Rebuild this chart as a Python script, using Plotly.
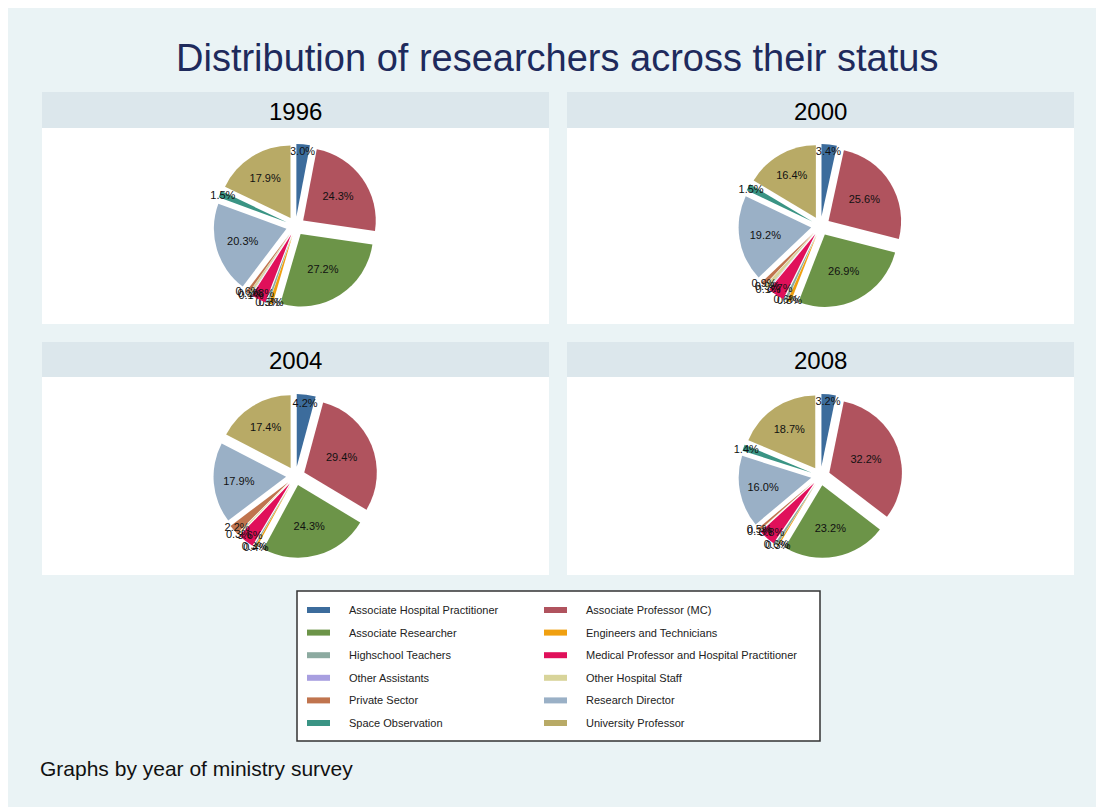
import plotly.graph_objects as go

# the page puts the figure 8px in from the top-left corner
OFF = 8
W, H = 1104 - OFF, 807 - OFF

statuses = [
    "Associate Hospital Practitioner", "Associate Professor (MC)",
    "Associate Researcher", "Engineers and Technicians",
    "Highschool Teachers", "Medical Professor and Hospital Practitioner",
    "Other Assistants", "Other Hospital Staff",
    "Private Sector", "Research Director",
    "Space Observation", "University Professor",
]
colors = ["#3C6C9C", "#B0535E", "#6C9448", "#F0A010", "#8CAAA0", "#E0105A",
          "#A89FE0", "#D8D49A", "#C0744E", "#9AB0C6", "#3A9484", "#B8AA66"]

years = ["1996", "2000", "2004", "2008"]
share_1996 = [3.0, 24.3, 27.2, 0.8, 0.5, 3.3, 0.1, 0.5, 0.6, 20.3, 1.5, 17.9]
share_2000 = [3.4, 25.6, 26.9, 0.8, 0.6, 3.7, 0.1, 0.9, 0.9, 19.2, 1.5, 16.4]
share_2004 = [4.2, 29.4, 24.3, 0.4, 0.3, 3.6, 0.0, 0.3, 2.2, 17.9, 0.0, 17.4]
share_2008 = [3.2, 32.2, 23.2, 0.3, 0.6, 3.8, 0.0, 0.1, 0.5, 16.0, 1.4, 18.7]
shares = [share_1996, share_2000, share_2004, share_2008]


def px(x):
    return (x - OFF) / W


def py(y):
    return 1 - (y - OFF) / H


def label(text, x, y, size, color="#111111", xanchor="center"):
    return dict(text=text, x=px(x), y=py(y), xref="paper", yref="paper",
                xanchor=xanchor, yanchor="middle", showarrow=False,
                font=dict(size=size, color=color, family="Liberation Sans"))


# panel boxes (left, right, header top, plot top, plot bottom) in pixels
panels = [
    (42, 549, 92, 128, 324),
    (567, 1074, 92, 128, 324),
    (42, 549, 342, 377, 575),
    (567, 1074, 342, 377, 575),
]

fig = go.Figure()
shapes = []
annotations = []

for year, vals, (x0, x1, yh, yp, yb) in zip(years, shares, panels):
    shapes.append(dict(type="rect", xref="paper", yref="paper", x0=px(x0), x1=px(x1),
                       y0=py(yp), y1=py(yh), fillcolor="#DCE7EC", line_width=0, layer="below"))
    shapes.append(dict(type="rect", xref="paper", yref="paper", x0=px(x0), x1=px(x1),
                       y0=py(yb), y1=py(yp), fillcolor="white", line_width=0, layer="below"))
    annotations.append(label(year, (x0 + x1) / 2, (yh + yp) / 2 + 1, 24, "black"))
    cx, cy = (x0 + x1) / 2, (yp + yb) / 2
    half = 82
    fig.add_trace(go.Pie(
        labels=statuses, values=vals, sort=False, direction="clockwise",
        marker=dict(colors=colors, line=dict(width=0)),
        pull=[0.13] * len(vals),
        text=[f"{v:.1f}%" if v > 0 else "" for v in vals],
        textinfo="text", textposition="inside",
        insidetextorientation="horizontal",
        textfont=dict(size=11, color="#111111", family="Liberation Sans"),
        domain=dict(x=[px(cx - half), px(cx + half)], y=[py(cy + half), py(cy - half)]),
        showlegend=False, hoverinfo="label+percent",
    ))

# legend box drawn by hand in two columns
shapes.append(dict(type="rect", xref="paper", yref="paper", x0=px(297), x1=px(820),
                   y0=py(741), y1=py(591), fillcolor="white",
                   line=dict(color="#333333", width=1.5), layer="below"))
for i, (name, col) in enumerate(zip(statuses, colors)):
    row, c = divmod(i, 2)
    ky = 610 + row * 22.6
    kx = 307 if c == 0 else 544
    shapes.append(dict(type="rect", xref="paper", yref="paper", x0=px(kx), x1=px(kx + 23),
                       y0=py(ky + 3), y1=py(ky - 3), fillcolor=col, line_width=0))
    annotations.append(label(name, kx + 40, ky, 11, "#222222", "left"))

annotations.append(label("Graphs by year of ministry survey", 38, 768, 21, "#111111", "left"))
annotations.append(label("Distribution of researchers across their status", 557, 58, 38, "#1E2A5C"))

fig.update_layout(
    width=W, height=H, margin=dict(l=0, r=0, t=0, b=0),
    paper_bgcolor="#EAF3F5", plot_bgcolor="#EAF3F5",
    shapes=shapes, annotations=annotations,
    uniformtext=dict(minsize=11, mode="show"),
)

fig.write_html("out.html")
